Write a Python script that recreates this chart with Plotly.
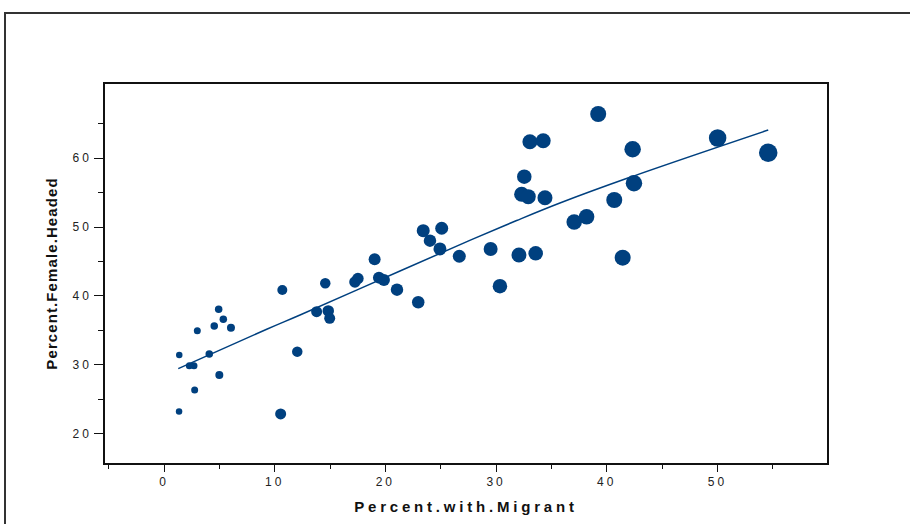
import plotly.graph_objects as go

# Scatter data (Percent.with.Migrant vs Percent.Female.Headed)
pct_migrant = [1.38, 1.36, 2.29, 2.71, 3.01, 2.77, 4.09, 4.54, 4.94, 5.36, 6.05, 5.00,
               10.69, 10.54, 12.04, 14.57, 13.79, 14.84, 14.97, 17.25, 17.52, 19.03,
               19.42, 19.87, 21.05, 22.97, 23.42, 25.09, 24.03, 24.93, 26.68, 29.51,
               30.35, 32.07, 33.58, 32.55, 32.31, 32.91, 33.06, 34.26, 34.42, 39.23,
               37.06, 38.18, 40.68, 42.34, 42.46, 41.44, 50.02, 54.59]
pct_female_headed = [31.41, 23.17, 29.85, 29.85, 34.94, 26.32, 31.56, 35.62, 38.05, 36.60,
                     35.38, 28.50, 40.86, 22.83, 31.89, 41.83, 37.70, 37.81, 36.74, 42.02,
                     42.53, 45.32, 42.65, 42.31, 40.90, 39.07, 49.48, 49.83, 48.02, 46.82,
                     45.76, 46.82, 41.40, 45.94, 46.19, 57.33, 54.77, 54.42, 62.41, 62.56,
                     54.27, 66.44, 50.74, 51.51, 53.94, 61.31, 56.37, 45.55, 62.95, 60.81]
bubble = [6.5, 6.5, 7, 7, 7, 7, 7.5, 7.5, 7.5, 7.5, 8, 8,
          10, 11, 10.5, 10.5, 11, 11.5, 11, 11.5, 11.5, 12,
          12, 12, 12.5, 12.5, 13, 13, 12.5, 13, 13, 14,
          14.5, 15, 14.5, 14.5, 15, 15, 15, 15, 15, 16,
          15.5, 15.5, 16, 16.5, 16.5, 16, 17.5, 18.5]

# Smoothed fit line
fit_x = [1.29, 9.28, 12.29, 21.32, 27.73, 31.86, 35.77, 42.10, 54.59]
fit_y = [29.42, 35.15, 37.22, 43.62, 48.13, 50.95, 53.50, 57.24, 64.11]

# Ticks
x_major = [0, 10, 20, 30, 40, 50]
x_minor = [-5, 5, 15, 25, 35, 45, 55]
y_major = [20, 30, 40, 50, 60]
y_minor = [25, 35, 45, 55, 65]

BLUE = "#00407f"
FONT = "Liberation Sans, Arial, sans-serif"


def spaced(t, px):
    return f"<span style='letter-spacing:{px}px'>{t}</span>"


fig = go.Figure()
fig.add_trace(go.Scatter(
    x=pct_migrant, y=pct_female_headed, mode="markers",
    marker=dict(size=bubble, sizemode="diameter", sizeref=1, color=BLUE, opacity=1,
                line=dict(width=0)),
    hoverinfo="x+y", showlegend=False))
fig.add_trace(go.Scatter(
    x=fit_x, y=fit_y, mode="lines", line=dict(color=BLUE, width=1.5, shape="spline", smoothing=1.0),
    hoverinfo="skip", showlegend=False))

axis_common = dict(showgrid=False, zeroline=False, showline=True, linecolor="#111",
                   linewidth=1.5, mirror=True, ticks="outside", tickcolor="#111",
                   tickwidth=1, tickfont=dict(family=FONT, size=12, color="#222"))

fig.update_xaxes(range=[-5.33, 59.9], tickvals=x_major,
                 ticktext=[spaced(str(v), 3) for v in x_major], ticklen=7,
                 minor=dict(tickvals=x_minor, ticklen=4, ticks="outside", tickcolor="#111"),
                 title=dict(text=spaced("<b>Percent.with.Migrant</b>", 3.8),
                            font=dict(family=FONT, size=15, color="#111"), standoff=13),
                 **axis_common)
fig.update_yaxes(range=[15.7, 70.8], tickvals=y_major,
                 ticktext=[spaced(str(v), 3) for v in y_major], ticklen=9,
                 minor=dict(tickvals=y_minor, ticklen=5, ticks="outside", tickcolor="#111"),
                 title=dict(text=spaced("<b>Percent.Female.Headed</b>", 1.1),
                            font=dict(family=FONT, size=15, color="#111"), standoff=11),
                 **axis_common)

# outer frame
fig.add_shape(type="rect", xref="paper", yref="paper", x0=-0.1385, y0=-1.0, x1=2.0, y1=1.1873,
              line=dict(color="#333", width=2), layer="below")

fig.update_layout(width=910, height=524, autosize=False,
                  margin=dict(l=105, r=83, t=84, b=61, autoexpand=False),
                  paper_bgcolor="white", plot_bgcolor="white",
                  font=dict(family=FONT))

fig.write_html("out.html")
